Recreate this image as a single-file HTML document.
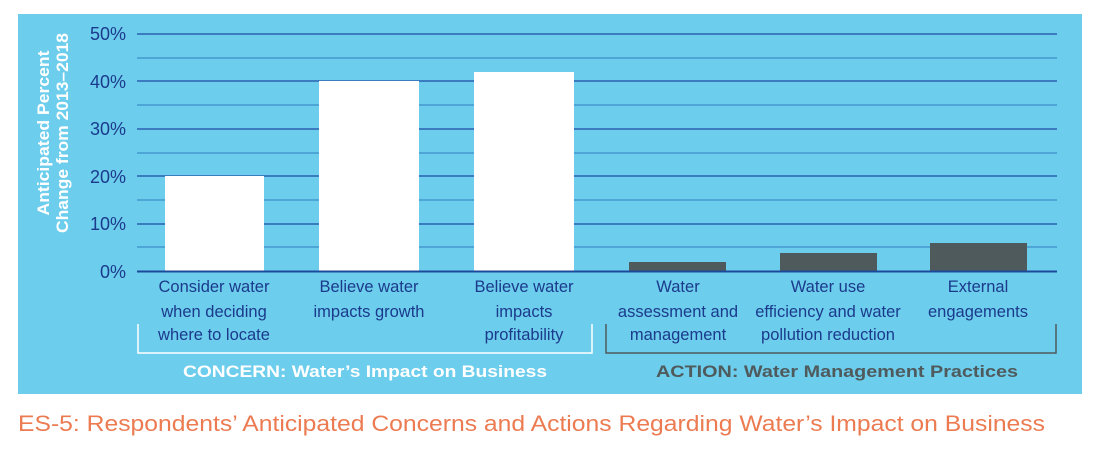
<!DOCTYPE html>
<html><head><meta charset="utf-8"><style>
html,body{margin:0;padding:0;background:#fff;width:1117px;height:458px;overflow:hidden}
svg{display:block}
.t{font-family:"Liberation Sans",sans-serif;fill:#1b3a8c;font-size:16.5px}
</style></head><body>
<svg width="1117" height="458" viewBox="0 0 1117 458">
<rect x="18" y="14" width="1064" height="380" fill="#6ccdec"/>
<g stroke="#3b8fc9" stroke-width="1.2">
<line x1="137" x2="1057" y1="58" y2="58"/><line x1="137" x2="1057" y1="105" y2="105"/><line x1="137" x2="1057" y1="153" y2="153"/><line x1="137" x2="1057" y1="200" y2="200"/><line x1="137" x2="1057" y1="247" y2="247"/>
</g>
<g stroke="#2a62b0" stroke-width="1.6">
<line x1="137" x2="1057" y1="34" y2="34"/><line x1="137" x2="1057" y1="81" y2="81"/><line x1="137" x2="1057" y1="129" y2="129"/><line x1="137" x2="1057" y1="176" y2="176"/><line x1="137" x2="1057" y1="224" y2="224"/>
</g>
<rect x="165" y="176" width="99" height="95" fill="#fff"/>
<rect x="319" y="81" width="100" height="190" fill="#fff"/>
<rect x="474" y="72" width="100" height="199" fill="#fff"/>
<rect x="629" y="262" width="97" height="9" fill="#4f5a5d"/>
<rect x="780" y="253" width="97" height="18" fill="#4f5a5d"/>
<rect x="930" y="243" width="97" height="28" fill="#4f5a5d"/>
<line x1="137" x2="1057" y1="271.5" y2="271.5" stroke="#1c4a9a" stroke-width="2"/>
<g class="t" text-anchor="end" style="font-size:18px">
<text x="126" y="40">50%</text><text x="126" y="88">40%</text><text x="126" y="135">30%</text><text x="126" y="183">20%</text><text x="126" y="230">10%</text><text x="126" y="278">0%</text>
</g>
<g font-family="Liberation Sans,sans-serif" font-weight="bold" font-size="17" fill="#fff" text-anchor="middle">
<text transform="translate(49,133) rotate(-90)" textLength="165" lengthAdjust="spacingAndGlyphs">Anticipated Percent</text>
<text transform="translate(68,133) rotate(-90)" textLength="200" lengthAdjust="spacingAndGlyphs">Change from 2013–2018</text>
</g>
<g class="t" text-anchor="middle">
<text x="214" y="292">Consider water</text><text x="214" y="317">when deciding</text><text x="214" y="340">where to locate</text>
<text x="369" y="292">Believe water</text><text x="369" y="317">impacts growth</text>
<text x="524" y="292">Believe water</text><text x="524" y="317">impacts</text><text x="524" y="340">profitability</text>
<text x="678" y="292">Water</text><text x="678" y="317">assessment and</text><text x="678" y="340">management</text>
<text x="828" y="292">Water use</text><text x="828" y="317">efficiency and water</text><text x="828" y="340">pollution reduction</text>
<text x="978" y="292">External</text><text x="978" y="317">engagements</text>
</g>
<polyline points="138,324 138,353 592,353 592,324" fill="none" stroke="#fff" stroke-width="1.5"/>
<polyline points="606,324 606,353 1056,353 1056,324" fill="none" stroke="#4f5a5d" stroke-width="1.5"/>
<g font-family="Liberation Sans,sans-serif" font-weight="bold" font-size="16.5" text-anchor="middle">
<text x="365" y="377" fill="#fff" textLength="364" lengthAdjust="spacingAndGlyphs">CONCERN: Water’s Impact on Business</text>
<text x="837" y="377" fill="#4f5a5d" textLength="362" lengthAdjust="spacingAndGlyphs">ACTION: Water Management Practices</text>
</g>
<text x="18" y="431" font-family="Liberation Sans,sans-serif" font-size="22" fill="#ec7b52" textLength="1027" lengthAdjust="spacingAndGlyphs">ES-5: Respondents’ Anticipated Concerns and Actions Regarding Water’s Impact on Business</text>
</svg>
</body></html>
